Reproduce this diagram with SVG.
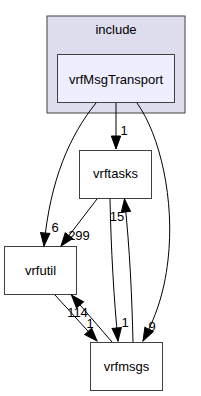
<svg xmlns="http://www.w3.org/2000/svg" width="201" height="396" viewBox="0 0 201 396">
<style>
.node rect{fill:#ffffff;stroke:#404040;stroke-width:1}
text{font-family:"Liberation Sans",Arial,sans-serif;fill:#000}
.lbl{font-size:13px;text-anchor:middle}
.el{font-size:13px;text-anchor:middle}
.edge path{fill:none;stroke:#000;stroke-width:1}
</style>
<defs>
<marker id="ah" markerUnits="userSpaceOnUse" markerWidth="14" markerHeight="10" refX="13" refY="4.65" orient="auto" overflow="visible">
<path d="M0,0 L13,4.65 L0,9.3 z" fill="#000" stroke="#000" stroke-width="1"/>
</marker>
</defs>
<rect width="201" height="396" fill="#fff"/>
<g id="cluster_include">
<rect x="47" y="16" width="138" height="97" fill="#ddddee" stroke="#404040"/>
<text class="lbl" x="116" y="33.5">include</text>
</g>
<g id="vrfMsgTransport" class="node">
<rect x="57.5" y="54.5" width="117" height="48" style="fill:#eeeeff"/>
<text class="lbl" x="116" y="83.5">vrfMsgTransport</text>
</g>
<g id="vrftasks" class="node">
<rect x="79.5" y="150.5" width="72" height="48"/>
<text class="lbl" x="115.5" y="178">vrftasks</text>
</g>
<g id="vrfutil" class="node">
<rect x="4.5" y="246.5" width="72" height="48"/>
<text class="lbl" x="40.5" y="274.5">vrfutil</text>
</g>
<g id="vrfmsgs" class="node">
<rect x="90.5" y="342.5" width="72" height="48"/>
<text class="lbl" x="126.5" y="371">vrfmsgs</text>
</g>
<g id="edges" class="edge">
<path d="M96,103 C70,135 50,180 44,246" marker-end="url(#ah)"/>
<text class="el" x="55" y="232">6</text>
<path d="M116,103 L116,149" marker-end="url(#ah)"/>
<text class="el" x="124" y="135">1</text>
<path d="M137,103 C160,135 175,200 168,260 C164,295 155,318 143,341" marker-end="url(#ah)"/>
<text class="el" x="152" y="331">9</text>
<path d="M97,199 L61,246" marker-end="url(#ah)"/>
<text class="el" x="79" y="240">299</text>
<path d="M110,199 C111,250 114,300 118,341" marker-end="url(#ah)"/>
<text class="el" x="125" y="327">1</text>
<path d="M133,342 C132,300 130,250 124.5,199" marker-end="url(#ah)"/>
<text class="el" x="117" y="221">15</text>
<path d="M55,295 L97,341" marker-end="url(#ah)"/>
<text class="el" x="90" y="327.5">1</text>
<path d="M112,342 L71.5,295" marker-end="url(#ah)"/>
<text class="el" x="77.5" y="316.5">114</text>
</g>
</svg>
